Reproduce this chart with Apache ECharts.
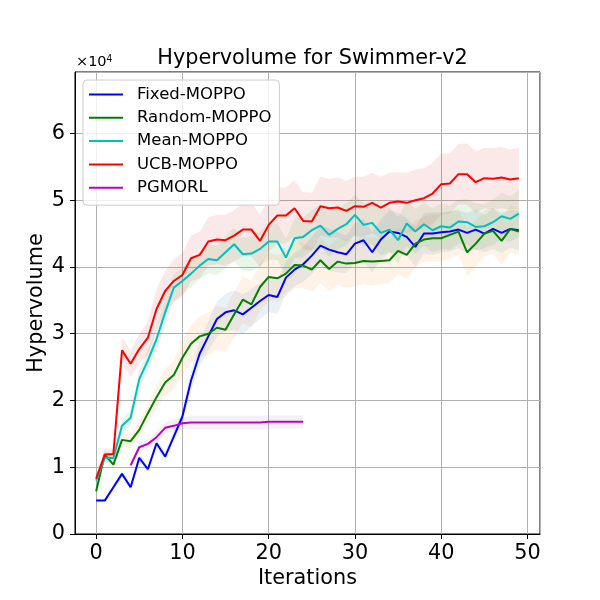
<!DOCTYPE html>
<html>
<head>
<meta charset="utf-8">
<script src="https://cdn.jsdelivr.net/npm/echarts@6/dist/echarts.min.js"></script>
<style>html,body{margin:0;padding:0;background:#fff;}#c{width:600px;height:600px;}</style>
</head>
<body>
<div id="c"></div>
<script>
// values in units of 1e4
var fixedMean = [0.5,0.5,0.7,0.9,0.7,1.14,0.97,1.36,1.16,1.46,1.76,2.3,2.7,2.96,3.22,3.32,3.35,3.29,3.39,3.49,3.58,3.55,3.84,3.96,4.04,4.17,4.32,4.26,4.22,4.19,4.35,4.4,4.22,4.41,4.53,4.51,4.45,4.3,4.5,4.5,4.52,4.53,4.56,4.51,4.56,4.5,4.57,4.51,4.57,4.55];
var fixedStd = [0.03,0.03,0.04,0.05,0.05,0.06,0.06,0.07,0.07,0.08,0.1,0.14,0.18,0.22,0.26,0.28,0.3,0.3,0.28,0.27,0.26,0.25,0.24,0.25,0.26,0.28,0.3,0.32,0.3,0.28,0.3,0.32,0.3,0.3,0.32,0.3,0.28,0.3,0.3,0.32,0.3,0.3,0.28,0.3,0.3,0.28,0.3,0.3,0.28,0.3];
var randomMean = [0.64,1.19,1.04,1.41,1.39,1.56,1.81,2.05,2.27,2.38,2.64,2.85,2.96,3.0,3.09,3.06,3.29,3.51,3.44,3.7,3.85,3.83,3.9,4.03,4.02,3.96,4.1,3.97,4.08,4.05,4.06,4.09,4.08,4.09,4.1,4.24,4.18,4.35,4.41,4.43,4.43,4.48,4.53,4.22,4.35,4.5,4.54,4.39,4.57,4.53];
var randomStd = [0.05,0.08,0.08,0.1,0.1,0.12,0.15,0.18,0.2,0.22,0.25,0.28,0.3,0.32,0.33,0.33,0.34,0.35,0.35,0.36,0.36,0.35,0.34,0.35,0.34,0.33,0.34,0.34,0.35,0.36,0.35,0.35,0.36,0.35,0.34,0.35,0.36,0.35,0.34,0.35,0.36,0.35,0.34,0.36,0.35,0.34,0.35,0.36,0.35,0.35];
var meanMean = [0.8,1.14,1.14,1.62,1.74,2.32,2.6,2.92,3.32,3.69,3.79,3.9,4.02,4.12,4.1,4.22,4.34,4.19,4.2,4.27,4.38,4.38,4.14,4.43,4.45,4.55,4.62,4.48,4.57,4.64,4.78,4.63,4.66,4.51,4.56,4.4,4.65,4.53,4.64,4.55,4.61,4.59,4.68,4.67,4.6,4.61,4.67,4.76,4.72,4.8];
var meanStd = [0.05,0.06,0.07,0.1,0.12,0.14,0.16,0.18,0.2,0.2,0.2,0.2,0.2,0.22,0.22,0.24,0.25,0.25,0.26,0.26,0.27,0.28,0.28,0.3,0.3,0.3,0.32,0.33,0.3,0.32,0.3,0.33,0.32,0.34,0.33,0.35,0.33,0.34,0.32,0.33,0.34,0.33,0.33,0.34,0.35,0.33,0.34,0.35,0.34,0.35];
var ucbMean = [0.83,1.19,1.2,2.75,2.55,2.77,2.94,3.37,3.64,3.79,3.88,4.13,4.18,4.38,4.41,4.4,4.47,4.56,4.56,4.39,4.63,4.77,4.77,4.88,4.69,4.68,4.91,4.88,4.89,4.84,4.91,4.9,4.96,4.89,4.96,4.98,4.96,5.0,5.03,5.1,5.24,5.25,5.39,5.39,5.27,5.33,5.32,5.34,5.31,5.33];
var ucbStd = [0.05,0.08,0.08,0.2,0.2,0.22,0.25,0.3,0.3,0.32,0.33,0.34,0.35,0.36,0.37,0.38,0.38,0.4,0.4,0.4,0.4,0.42,0.42,0.42,0.43,0.43,0.44,0.44,0.45,0.45,0.44,0.45,0.45,0.46,0.45,0.44,0.45,0.46,0.45,0.46,0.46,0.45,0.45,0.46,0.46,0.45,0.46,0.46,0.45,0.46];
var pgmorlStart = 4;
var pgmorlMean = [1.03,1.3,1.35,1.45,1.59,1.62,1.66,1.67,1.67,1.67,1.67,1.67,1.67,1.67,1.67,1.67,1.68,1.68,1.68,1.68,1.68];
var pgmorlStd = [0.05,0.06,0.07,0.08,0.08,0.09,0.09,0.1,0.1,0.1,0.1,0.1,0.1,0.1,0.1,0.1,0.1,0.1,0.1,0.1,0.1];

var names = ['Fixed-MOPPO','Random-MOPPO','Mean-MOPPO','UCB-MOPPO','PGMORL'];
var lineColors = ['#0000ff','#008000','#00bfbf','#ff0000','#bf00bf'];
var fillColors = ['rgba(31,119,180,0.1)','rgba(255,127,14,0.1)','rgba(44,160,44,0.1)','rgba(214,39,40,0.1)','rgba(148,103,189,0.1)'];
var allMeans = [fixedMean, randomMean, meanMean, ucbMean, pgmorlMean];
var allStds = [fixedStd, randomStd, meanStd, ucbStd, pgmorlStd];
var starts = [0,0,0,0,pgmorlStart];

var FONT = 'DejaVu Sans';
var series = [];
allMeans.forEach(function(m, k){
  var s = allStds[k], st = starts[k];
  var band = m.map(function(v,i){ return [i+st, v - s[i], v + s[i]]; });
  series.push({type:'custom', name:'band'+k, data:band, silent:true, z:1, clip:true,
    encode:{x:0, y:[1,2]},
    renderItem:function(params, api){
      if (params.dataIndex !== 0) return null;
      var top = [], bot = [];
      for (var i = 0; i < band.length; i++) {
        top.push(api.coord([band[i][0], band[i][2]]));
        bot.push(api.coord([band[i][0], band[i][1]]));
      }
      var pts = top.concat(bot.reverse());
      return {type:'polygon', shape:{points:pts}, style:{fill:fillColors[k], stroke:null}};
    }
  });
});
allMeans.forEach(function(m, k){
  var st = starts[k];
  series.push({type:'line', name:names[k], data:m.map(function(v,i){return [i+st, v];}),
    symbol:'none', color:lineColors[k], lineStyle:{color:lineColors[k], width:2}, z:2+k});
});

var lineIcon = 'path://M0,0 L34,0 L34,2 L0,2 Z';
var chart = echarts.init(document.getElementById('c'), null, {renderer:'canvas'});
chart.setOption({
  animation:false,
  backgroundColor:'#fff',
  textStyle:{fontFamily:FONT},
  title:{text:'Hypervolume for Swimmer-v2', left:307.5, textAlign:'center', top:43,
    textStyle:{fontFamily:FONT, fontSize:20.8, fontWeight:'normal', color:'#000'}},
  graphic:[{type:'text', left:76, top:54, style:{text:'×10{s|4}', fontFamily:FONT, fontSize:14.5, fill:'#000',
    rich:{s:{fontSize:10, verticalAlign:'top', padding:[0,0,6,0]}}}}],
  grid:{left:75, right:60, top:72, bottom:66, show:true, borderColor:'#000', borderWidth:1, backgroundColor:'transparent'},
  legend:{data:names.map(function(n){return {name:n, icon:lineIcon};}), orient:'vertical', left:83, top:80,
    itemWidth:34, itemHeight:14, itemGap:6.3, symbolKeepAspect:true,
    padding:[6,8,9,6], backgroundColor:'rgba(255,255,255,0.8)', borderColor:'#cccccc', borderWidth:1, borderRadius:4,
    textStyle:{fontFamily:FONT, fontSize:16.5, color:'#000', padding:[0,0,0,9]}},
  xAxis:{type:'value', min:-2.45, max:51.45, splitNumber:5,
    name:'Iterations', nameLocation:'middle', nameGap:34, nameMoveOverlap:false,
    nameTextStyle:{fontFamily:FONT, fontSize:20.8, color:'#000'},
    axisLine:{show:true, onZero:false, lineStyle:{color:'#000', width:1}},
    axisTick:{show:true, length:5, lineStyle:{color:'#000'}},
    axisLabel:{fontFamily:FONT, fontSize:20.8, color:'#000', margin:9, showMinLabel:false, showMaxLabel:false},
    splitLine:{show:true, lineStyle:{color:'#b0b0b0', width:1}}},
  yAxis:{type:'value', min:0, max:6.92, interval:1,
    name:'Hypervolume', nameLocation:'middle', nameGap:28, nameMoveOverlap:false,
    nameTextStyle:{fontFamily:FONT, fontSize:20.8, color:'#000'},
    axisLine:{show:true, onZero:false, lineStyle:{color:'#000', width:1}},
    axisTick:{show:true, length:5, lineStyle:{color:'#000'}},
    axisLabel:{fontFamily:FONT, fontSize:20.8, color:'#000', margin:10, showMaxLabel:false},
    splitLine:{show:true, lineStyle:{color:'#b0b0b0', width:1}}},
  series:series
});
</script>
</body>
</html>
